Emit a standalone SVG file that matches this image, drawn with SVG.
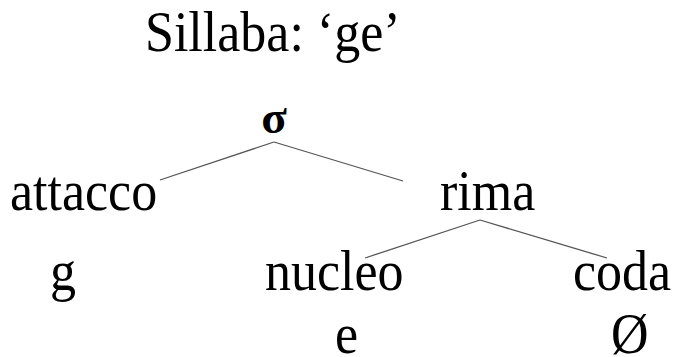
<svg xmlns="http://www.w3.org/2000/svg" width="680" height="357" viewBox="0 0 680 357">
<style>
.t{font-family:"Liberation Serif","Times New Roman",serif;font-size:52px;fill:#000}
.s{font-family:"Liberation Serif","Times New Roman",serif;font-size:47px;font-weight:bold;fill:#000}
.e{stroke:#555;stroke-width:1.3;fill:none}
</style>
<rect width="680" height="357" fill="#fff"/>
<g id="title" transform="translate(145,51) scale(1,1.08)"><text class="t" x="0" y="0">Sillaba: ‘ge’</text></g>
<g id="edges">
<line class="e" x1="160" y1="180" x2="274" y2="142"/>
<line class="e" x1="274" y1="142" x2="403" y2="181"/>
<line class="e" x1="365" y1="258" x2="480" y2="220"/>
<line class="e" x1="480" y1="220" x2="607" y2="258"/>
</g>
<g id="sigma"><text class="s" x="274" y="133" text-anchor="middle">σ</text></g>
<g id="attacco" transform="translate(10,210) scale(1,1.08)"><text class="t" x="0" y="0">attacco</text></g>
<g id="rima" transform="translate(440,210) scale(1,1.08)"><text class="t" x="0" y="0">rima</text></g>
<g id="g" transform="translate(50,290) scale(1,1.08)"><text class="t" x="0" y="0">g</text></g>
<g id="nucleo" transform="translate(265,290) scale(1,1.08)"><text class="t" x="0" y="0">nucleo</text></g>
<g id="coda" transform="translate(573,290) scale(1,1.08)"><text class="t" x="0" y="0">coda</text></g>
<g id="e" transform="translate(335,353) scale(1,1.08)"><text class="t" x="0" y="0">e</text></g>
<g id="null" transform="translate(611,353) scale(1,1.08)"><text class="t" x="0" y="0">Ø</text></g>
</svg>
